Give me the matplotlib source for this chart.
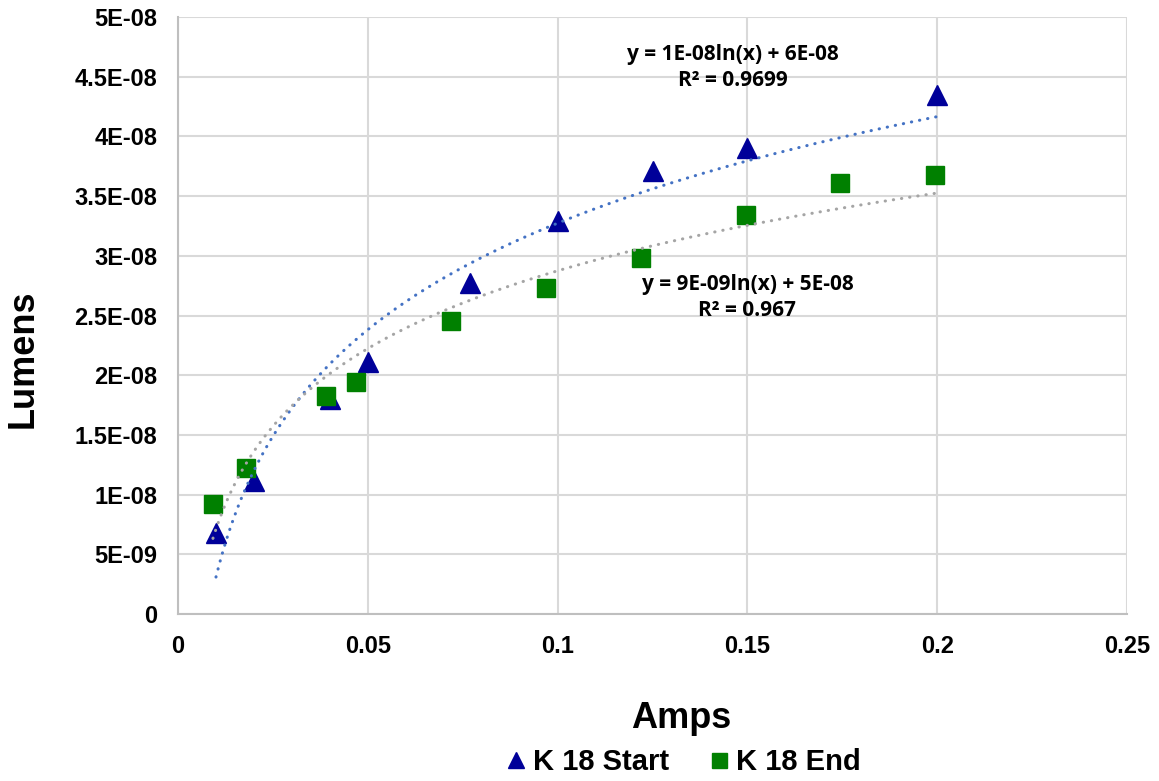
import numpy as np
import matplotlib.pyplot as plt
from matplotlib.ticker import MultipleLocator, FuncFormatter

# K 18 Start (triangles)
start_amps = [0.01, 0.02, 0.04, 0.05, 0.077, 0.1, 0.125, 0.15, 0.2]
start_lumens = [6.8e-9, 1.11e-8, 1.80e-8, 2.11e-8, 2.77e-8, 3.29e-8, 3.71e-8, 3.90e-8, 4.35e-8]

# K 18 End (squares)
end_amps = [0.0092, 0.018, 0.039, 0.047, 0.072, 0.097, 0.122, 0.1495, 0.1745, 0.1995]
end_lumens = [9.2e-9, 1.22e-8, 1.83e-8, 1.94e-8, 2.45e-8, 2.73e-8, 2.98e-8, 3.34e-8, 3.61e-8, 3.68e-8]

start_eq = 'y = 1E-08ln(x) + 6E-08\nR² = 0.9699'
end_eq = 'y = 9E-09ln(x) + 5E-08\nR² = 0.967'

plt.rcParams['font.family'] = ['Liberation Sans', 'DejaVu Sans']

fig = plt.figure(figsize=(11.59, 7.81), dpi=100)
ax = fig.add_axes([0.1536, 0.2138, 0.8188, 0.7644])


def log_trend(x, y):
    x = np.asarray(x)
    a, b = np.polyfit(np.log(x), np.asarray(y), 1)
    xs = np.linspace(x.min(), x.max(), 200)
    return xs, a * np.log(xs) + b


ax.plot(start_amps, start_lumens, linestyle='none', marker='^', markersize=15,
        color='#000099', label='K 18 Start', zorder=3)
ax.plot(end_amps, end_lumens, linestyle='none', marker='s', markersize=13.5,
        color='#008000', label='K 18 End', zorder=3)

xs, ys = log_trend(start_amps, start_lumens)
ax.plot(xs, ys, color='#4472C4', lw=2.2, linestyle=(0, (0.1, 2.6)),
        dash_capstyle='round', zorder=4)
xs, ys = log_trend(end_amps, end_lumens)
ax.plot(xs, ys, color='#A5A5A5', lw=2.2, linestyle=(0, (0.1, 2.6)),
        dash_capstyle='round', zorder=4)

ax.set_xlim(0, 0.25)
ax.set_ylim(0, 5e-8)
ax.xaxis.set_major_locator(MultipleLocator(0.05))
ax.yaxis.set_major_locator(MultipleLocator(5e-9))


def yfmt(v, pos):
    if abs(v) < 1e-12:
        return '0'
    return ('%.1E' % v).replace('.0E', 'E')


ax.yaxis.set_major_formatter(FuncFormatter(yfmt))
ax.xaxis.set_major_formatter(FuncFormatter(lambda v, p: '%g' % round(v, 4)))

ax.grid(True, color='#D9D9D9', lw=1.5)
ax.set_axisbelow(True)
for s in ['top', 'right']:
    ax.spines[s].set_visible(False)
for s in ['left', 'bottom']:
    ax.spines[s].set_color('#BFBFBF')
    ax.spines[s].set_linewidth(1.5)
ax.tick_params(length=0, labelsize=17, pad=15)
for lab in ax.get_xticklabels() + ax.get_yticklabels():
    lab.set_fontweight('bold')

ax.set_xlabel('Amps', fontsize=26, fontweight='bold')
ax.set_ylabel('Lumens', fontsize=26, fontweight='bold')
ax.xaxis.set_label_coords(0.53, -0.145)
ax.yaxis.set_label_coords(-0.145, 0.427)

ax.text(0.1463, 4.58e-8, start_eq, ha='center', va='center', fontsize=15,
        fontweight='bold', family=['Open Sans', 'DejaVu Sans'], linespacing=1.3)
ax.text(0.15, 2.65e-8, end_eq, ha='center', va='center', fontsize=15,
        fontweight='bold', family=['Open Sans', 'DejaVu Sans'], linespacing=1.3)

fig.legend(loc='center', bbox_to_anchor=(684 / 1159, 0.024), ncol=2, frameon=False,
           prop={'size': 21, 'weight': 'bold'}, markerscale=0.8,
           handlelength=0.6, handletextpad=0.3, columnspacing=1.4)

fig.savefig('out.png', dpi=100)
